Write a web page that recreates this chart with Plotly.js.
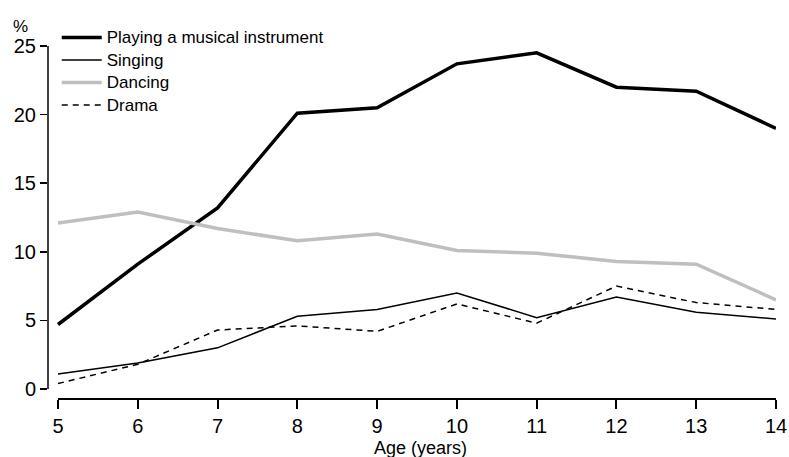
<!DOCTYPE html>
<html>
<head>
<meta charset="utf-8">
<script src="https://cdn.plot.ly/plotly-3.0.1.min.js"></script>
<style>
html,body{margin:0;padding:0;background:#fff;}
#chart{width:789px;height:457px;}
#chart .legend .legendtext{font-size:17px !important;}
#chart .legend .scrollbox{clip-path:none !important;}
</style>
</head>
<body>
<div id="chart"></div>
<script>
const ages = [5, 6, 7, 8, 9, 10, 11, 12, 13, 14];
const musicalInstrument = [4.7, 9.1, 13.2, 20.1, 20.5, 23.7, 24.5, 22.0, 21.7, 19.0];
const singing = [1.1, 1.9, 3.0, 5.3, 5.8, 7.0, 5.2, 6.7, 5.6, 5.1];
const dancing = [12.1, 12.9, 11.7, 10.8, 11.3, 10.1, 9.9, 9.3, 9.1, 6.5];
const drama = [0.4, 1.8, 4.3, 4.6, 4.2, 6.2, 4.8, 7.5, 6.3, 5.8];
const yTicks = [0, 5, 10, 15, 20, 25];

const FONT = 'Liberation Sans, Arial, sans-serif';

const traces = [
  {x: ages, y: musicalInstrument, name: 'Playing a musical instrument', mode: 'lines', line: {color: '#000', width: 3.5}},
  {x: ages, y: singing, name: 'Singing', mode: 'lines', line: {color: '#000', width: 1.5}},
  {x: ages, y: dancing, name: 'Dancing', mode: 'lines', line: {color: '#bfbfbf', width: 3.5}},
  {x: ages, y: drama, name: 'Drama', mode: 'lines', line: {color: '#000', width: 1.5, dash: '6px,5px'}}
];

const layout = {
  width: 789, height: 457,
  margin: {l: 48, r: 13, t: 46, b: 58},
  paper_bgcolor: '#fff', plot_bgcolor: '#fff',
  font: {family: FONT, color: '#000', size: 16},
  showlegend: true,
  legend: {x: 0.012, y: 1.07, xanchor: 'left', yanchor: 'top', bgcolor: 'rgba(0,0,0,0)',
           font: {size: 15, family: FONT}, tracegroupgap: 0, itemwidth: 40},
  xaxis: {
    range: [5 - 10/79.8, 14], tickvals: ages, ticktext: ages.map(String),
    ticks: 'outside', ticklen: 9, tickwidth: 2, tickcolor: '#000',
    showline: false, showgrid: false, zeroline: false,
    tickfont: {size: 20, family: FONT}
  },
  yaxis: {
    range: [-10/13.72, 25], tickvals: yTicks,
    ticks: 'outside', ticklen: 7, tickwidth: 1.5, tickcolor: '#000',
    showline: false, showgrid: false, zeroline: false,
    tickfont: {size: 20, family: FONT}
  },
  shapes: [
    {type: 'line', xref: 'paper', yref: 'y', x0: 0, x1: 0, y0: 0, y1: 25, line: {color: '#000', width: 1.5}},
    {type: 'line', xref: 'x', yref: 'paper', x0: 5, x1: 14, y0: 0, y1: 0, line: {color: '#000', width: 2}}
  ],
  annotations: [
    {text: '%', xref: 'paper', yref: 'paper', x: -0.038, y: 1.055, xanchor: 'center', yanchor: 'middle',
     showarrow: false, font: {size: 17, family: FONT}},
    {text: 'Age (years)', xref: 'paper', yref: 'paper', x: 0.511, y: -0.139, xanchor: 'center', yanchor: 'middle',
     showarrow: false, font: {size: 18, family: FONT}}
  ]
};

Plotly.newPlot('chart', traces, layout, {displayModeBar: false, staticPlot: true});
</script>
</body>
</html>
